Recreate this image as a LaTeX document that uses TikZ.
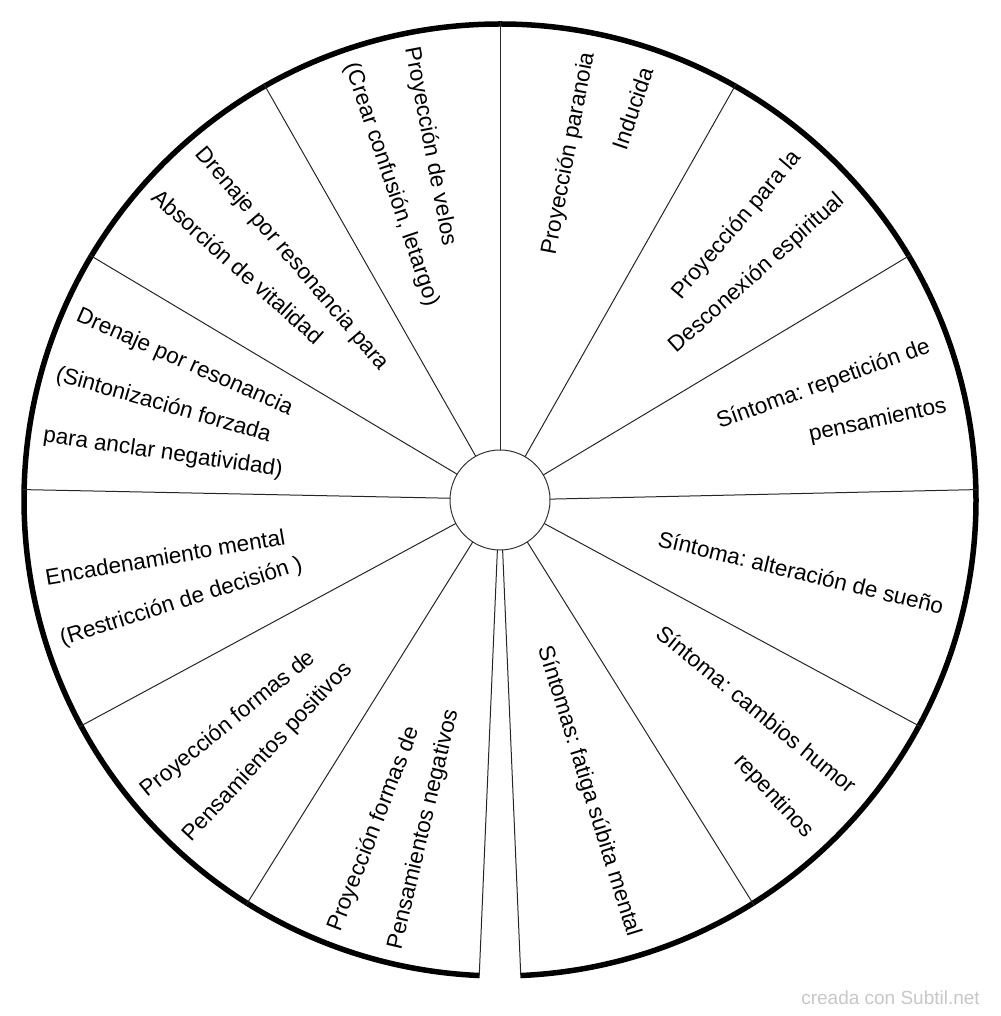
\documentclass[tikz,border=0pt]{standalone}
\usepackage{fontspec}
\setmainfont{Liberation Sans}
\usetikzlibrary{calc}
\newcommand\ls{\rule[-6pt]{0pt}{28pt}}
\frenchspacing
\begin{document}
\begin{tikzpicture}[x=1pt,y=1pt,
  lbl/.style={inner sep=0pt, outer sep=0pt, font=\fontsize{22.5}{27}\selectfont\frenchspacing, text=black},
  outlbl/.style={lbl, anchor=east},
  inlbl/.style={lbl, anchor=west},
  spoke/.style={line width=1pt, draw=black!85},
  rim/.style={line width=5.5pt, draw=black},
  hubstyle/.style={circle, draw=black!80, line width=1pt, minimum size=100pt, inner sep=0pt, outer sep=0pt},
  wmark/.style={font=\fontsize{19}{22}\selectfont, text=black!22, inner sep=0pt, anchor=base east}]
\useasboundingbox (0,0) rectangle (1000,1016);
\coordinate (C) at (500,516);
\node[hubstyle] (hub) at (C) {};
\draw[rim] ($(C)+(-87.5:476)$) arc[start angle=-87.5, end angle=267.5, radius=476];
\foreach \k in {0,...,12}{
  \pgfmathsetmacro\a{-87.5+\k*355/12}
  \coordinate (e\k) at ($(C)+(\a:478.7)$);
  \draw[spoke] (hub.\a) -- (e\k);
}
\def\rt{456}
\def\rl{461}
% right half: each line reads outward along its own ray
\node[outlbl, rotate=-72.708] (t0) at ($(C)+(-72.708:\rt)$) {\ls Síntomas: fatiga súbita mental};
\node[outlbl, rotate=-39.225] (t1a) at ($(C)+(-39.225:\rt)$) {\ls Síntoma: cambios humor};
\node[outlbl, rotate=-47.025] (t1b) at ($(C)+(-47.025:\rt)$) {\ls repentinos};
\node[outlbl, rotate=-13.542] (t2) at ($(C)+(-13.542:\rt)$) {\ls Síntoma: alteración de sueño};
\node[outlbl, rotate=19.942] (t3a) at ($(C)+(19.942:\rt)$) {\ls Síntoma: repetición de};
\node[outlbl, rotate=12.142] (t3b) at ($(C)+(12.142:\rt)$) {\ls pensamientos};
\node[outlbl, rotate=49.525] (t4a) at ($(C)+(49.525:\rt)$) {\ls Proyección para la};
\node[outlbl, rotate=41.725] (t4b) at ($(C)+(41.725:\rt)$) {\ls Desconexión espiritual};
\node[outlbl, rotate=79.108] (t5a) at ($(C)+(79.108:\rt)$) {\ls Proyección paranoia};
\node[outlbl, rotate=71.308] (t5b) at ($(C)+(71.308:\rt)$) {\ls Inducida};
% left half: each line reads inward along its own ray
\node[inlbl, rotate=-79.108] (t6a) at ($(C)+(100.892:\rl)$) {\ls Proyección de velos};
\node[inlbl, rotate=-71.308] (t6b) at ($(C)+(108.692:\rl)$) {\ls (Crear confusión, letargo)};
\node[inlbl, rotate=-49.525] (t7a) at ($(C)+(130.475:\rl)$) {\ls Drenaje por resonancia para};
\node[inlbl, rotate=-41.725] (t7b) at ($(C)+(138.275:\rl)$) {\ls Absorción de vitalidad};
\node[inlbl, rotate=-23.842] (t8a) at ($(C)+(156.158:\rl)$) {\ls Drenaje por resonancia};
\node[inlbl, rotate=-16.042] (t8b) at ($(C)+(163.958:\rl)$) {\ls (Sintonización forzada};
\node[inlbl, rotate=-8.242] (t8c) at ($(C)+(171.758:\rl)$) {\ls para anclar negatividad)};
\node[inlbl, rotate=9.642] (t9a) at ($(C)+(189.642:\rl)$) {\ls Encadenamiento mental};
\node[inlbl, rotate=17.442] (t9b) at ($(C)+(197.442:\rl)$) {\ls (Restricción de decisión )};
\node[inlbl, rotate=39.225] (t10a) at ($(C)+(219.225:\rl)$) {\ls Proyección formas de};
\node[inlbl, rotate=47.025] (t10b) at ($(C)+(227.025:\rl)$) {\ls Pensamientos positivos};
\node[inlbl, rotate=68.808] (t11a) at ($(C)+(248.808:\rl)$) {\ls Proyección formas de};
\node[inlbl, rotate=76.608] (t11b) at ($(C)+(256.608:\rl)$) {\ls Pensamientos negativos};
\node[wmark] (wm) at (980,12) {creada con Subtil.net};
\end{tikzpicture}
\end{document}
